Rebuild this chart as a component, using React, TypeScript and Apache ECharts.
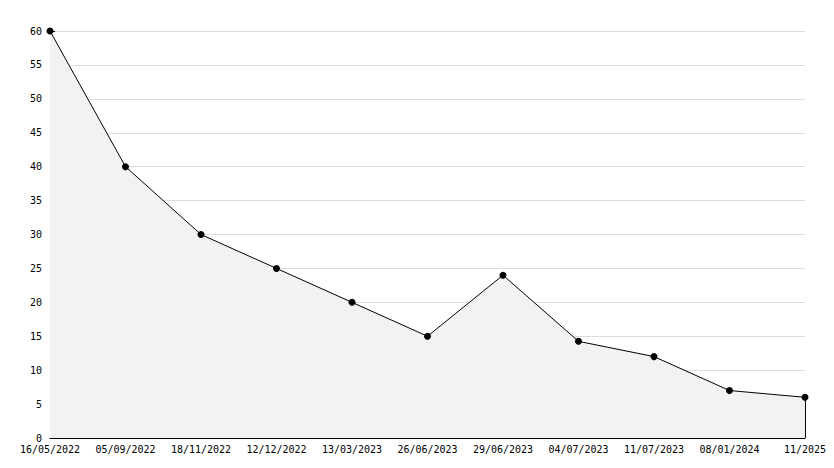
import React, { useEffect, useRef } from "react";
import * as echarts from "echarts";

const categories = [
  "16/05/2022", "05/09/2022", "18/11/2022", "12/12/2022", "13/03/2023",
  "26/06/2023", "29/06/2023", "04/07/2023", "11/07/2023", "08/01/2024", "11/2025",
];
const values = [60, 40, 30, 25, 20, 15, 24, 14.25, 12, 7, 6];

const FONT = "DejaVu Sans Mono";

export default function App() {
  const ref = useRef<HTMLDivElement>(null);
  useEffect(() => {
    if (!ref.current) return;
    const chart = echarts.init(ref.current, null, { renderer: "svg" });
    const lastCat = categories[categories.length - 1];
    const lastVal = values[values.length - 1];
    chart.setOption({
      animation: false,
      backgroundColor: "#ffffff",
      grid: { left: 50, right: 29, top: 31, bottom: 30, containLabel: false },
      xAxis: {
        type: "category",
        data: categories,
        boundaryGap: false,
        axisLine: { lineStyle: { color: "#000", width: 1 } },
        axisTick: { inside: true, length: 5, lineStyle: { color: "#000" }, alignWithLabel: true },
        axisLabel: { color: "#000", fontFamily: FONT, fontSize: 10, margin: 6, interval: 0 },
        splitLine: { show: false },
      },
      yAxis: {
        type: "value",
        min: 0,
        max: 60,
        interval: 5,
        axisLine: { show: true, lineStyle: { color: "#000", width: 1 } },
        axisTick: { show: true, inside: true, length: 5, lineStyle: { color: "#000" } },
        minorTick: { show: true, splitNumber: 5, length: 3, lineStyle: { color: "#000" } },
        axisLabel: { color: "#000", fontFamily: FONT, fontSize: 10, margin: 8 },
        splitLine: { show: true, lineStyle: { color: "#dddddd", width: 1 } },
      },
      series: [
        {
          type: "line",
          data: values,
          symbol: "circle",
          symbolSize: 7,
          itemStyle: { color: "#000" },
          lineStyle: { color: "#000", width: 1 },
          areaStyle: { color: "#f2f2f2", opacity: 1 },
          z: 3,
          markLine: {
            silent: true,
            symbol: ["none", "none"],
            label: { show: false },
            lineStyle: { color: "#000", width: 1, type: "solid" },
            data: [[{ coord: [lastCat, 0] }, { coord: [lastCat, lastVal] }]],
          },
        },
      ],
    });
    return () => chart.dispose();
  }, []);
  return <div ref={ref} style={{ width: 834, height: 468, position: "absolute", left: 0, top: 0 }} />;
}
